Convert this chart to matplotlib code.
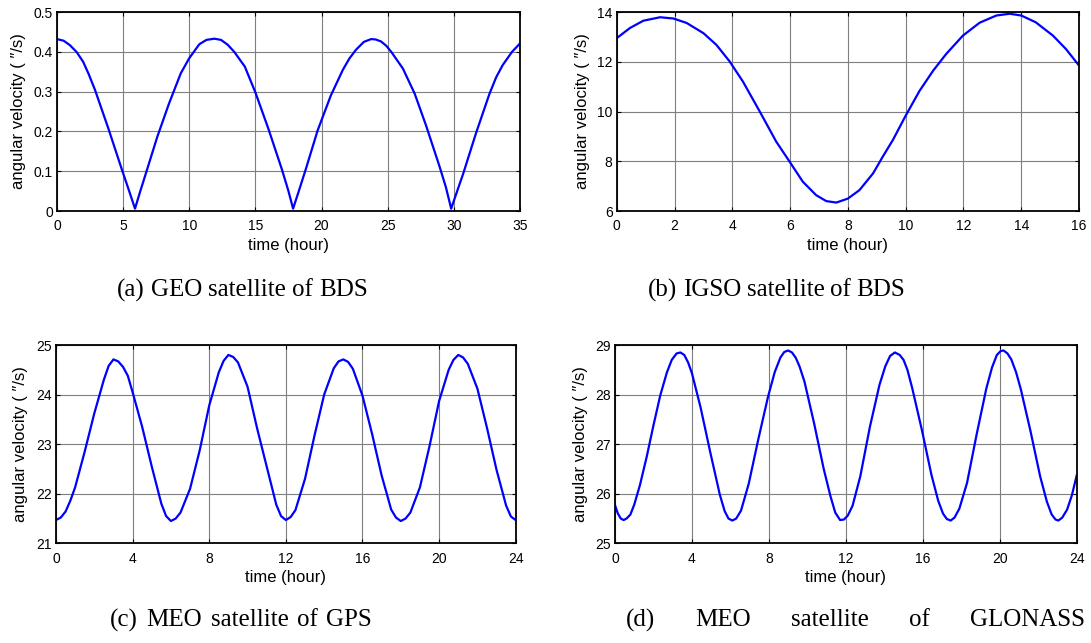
import matplotlib
matplotlib.use("Agg")
import matplotlib.pyplot as plt
from matplotlib.ticker import FuncFormatter

plt.rcParams['font.family'] = ['Liberation Sans', 'DejaVu Sans']

# (a) GEO satellite of BDS
geo_t = [0, 0.5, 0.97, 1.5, 1.98, 2.4, 2.88, 3.89, 4.9, 5.4, 5.9, 6.3, 6.82, 7.58, 8.47, 9.36, 10.0, 10.76,
         11.3, 11.9, 12.4, 12.9, 13.4, 14.2, 15.0, 15.98, 17.0, 17.5, 17.85, 18.3, 18.81, 19.7, 20.7, 21.6,
         22.1, 22.6, 23.2, 23.75, 24.1, 24.5, 24.9, 25.27, 26.15, 27.04, 27.9, 28.9, 29.4, 29.8, 30.2, 30.7,
         31.7, 32.7, 33.2, 33.7, 34.4, 35.0]
geo_v = [0.432, 0.428, 0.417, 0.399, 0.375, 0.344, 0.304, 0.207, 0.105, 0.056, 0.006, 0.05, 0.105, 0.186,
         0.27, 0.346, 0.384, 0.419, 0.430, 0.433, 0.430, 0.418, 0.40, 0.363, 0.298, 0.207, 0.105, 0.05, 0.006,
         0.052, 0.105, 0.202, 0.29, 0.354, 0.383, 0.405, 0.425, 0.432, 0.431, 0.426, 0.415, 0.40, 0.358, 0.295,
         0.215, 0.114, 0.06, 0.006, 0.045, 0.093, 0.198, 0.295, 0.336, 0.367, 0.400, 0.421]

# (b) IGSO satellite of BDS
igso_t = [0, 0.46, 0.92, 1.5, 1.96, 2.42, 3.0, 3.45, 3.91, 4.37, 4.95, 5.52, 5.98, 6.44, 6.9, 7.25, 7.6, 8.0,
          8.4, 8.87, 9.21, 9.56, 9.99, 10.48, 10.95, 11.4, 11.98, 12.56, 13.14, 13.6, 14.0, 14.5, 15.1, 15.55, 16.0]
igso_v = [12.95, 13.36, 13.65, 13.79, 13.74, 13.56, 13.15, 12.68, 12.01, 11.2, 10.0, 8.79, 7.99, 7.18, 6.64,
          6.40, 6.34, 6.50, 6.84, 7.51, 8.19, 8.86, 9.81, 10.83, 11.64, 12.31, 13.05, 13.57, 13.86, 13.93, 13.86,
          13.59, 13.05, 12.51, 11.85]

# (c) MEO satellite of GPS
gps_t = [0, 0.25, 0.5, 0.75, 1.0, 1.5, 2.0, 2.5, 2.75, 3.0, 3.25, 3.5, 3.75, 4.0, 4.5, 5.0, 5.5, 5.75, 6.0,
         6.25, 6.5, 7.0, 7.5, 8.0, 8.5, 8.75, 9.0, 9.25, 9.5, 10.0, 10.5, 11.0, 11.5, 11.75, 12.0,
         12.25, 12.5, 13.0, 13.5, 14.0, 14.5, 14.75, 15.0, 15.25, 15.5, 16.0, 16.5, 17.0, 17.5, 17.75, 18.0,
         18.25, 18.5, 19.0, 19.5, 20.0, 20.5, 20.75, 21.0, 21.25, 21.5, 22.0, 22.5, 23.0, 23.5, 23.75, 24.0]
gps_v = [21.47, 21.52, 21.64, 21.86, 22.13, 22.85, 23.62, 24.3, 24.58, 24.71, 24.67, 24.56, 24.38, 24.05,
         23.35, 22.55, 21.8, 21.55, 21.45, 21.5, 21.62, 22.1, 22.87, 23.78, 24.45, 24.68, 24.8, 24.76, 24.65,
         24.16, 23.32, 22.55, 21.78, 21.55, 21.47,
         21.53, 21.67, 22.3, 23.18, 24.0, 24.53, 24.67, 24.71, 24.66, 24.52, 23.98, 23.21, 22.37, 21.68, 21.52,
         21.45, 21.5, 21.62, 22.13, 22.96, 23.87, 24.5, 24.7, 24.8, 24.75, 24.62, 24.12, 23.33, 22.48, 21.76,
         21.54, 21.47]

# (d) MEO satellite of GLONASS
glo_t = [0, 0.15, 0.3, 0.45, 0.6, 0.8, 1.0, 1.3, 1.65, 2.0, 2.35, 2.7, 2.95, 3.2, 3.4, 3.6, 3.8, 4.0, 4.45,
         4.95, 5.45, 5.7, 5.9, 6.1, 6.3, 6.55, 6.95, 7.45, 7.95, 8.3, 8.6, 8.8, 9.0, 9.2, 9.4, 9.6, 9.85, 10.35,
         10.85, 11.2, 11.45, 11.7, 11.9, 12.1, 12.35, 12.75, 13.25, 13.75, 14.05, 14.3, 14.55, 14.8, 15.0, 15.2,
         15.45, 15.95, 16.45, 16.8, 17.05, 17.25, 17.45, 17.65, 17.9, 18.3, 18.8, 19.3, 19.6, 19.85, 20.05, 20.2,
         20.4, 20.6, 20.85, 21.1, 21.6, 22.1, 22.45, 22.7, 22.9, 23.05, 23.25, 23.5, 23.75, 24.0]
glo_v = [25.77, 25.6, 25.5, 25.47, 25.5, 25.58, 25.78, 26.18, 26.75, 27.38, 27.98, 28.45, 28.7, 28.83, 28.85,
         28.8, 28.65, 28.43, 27.74, 26.84, 25.98, 25.65, 25.5, 25.46, 25.5, 25.66, 26.2, 27.1, 27.95, 28.45,
         28.75, 28.86, 28.89, 28.85, 28.74, 28.56, 28.26, 27.42, 26.5, 25.95, 25.62, 25.47, 25.48, 25.56, 25.76,
         26.35, 27.35, 28.2, 28.57, 28.78, 28.85, 28.8, 28.7, 28.5, 28.13, 27.29, 26.38, 25.86, 25.6, 25.49,
         25.46, 25.52, 25.7, 26.22, 27.2, 28.12, 28.55, 28.8, 28.88, 28.89, 28.83, 28.71, 28.45, 28.1, 27.26,
         26.35, 25.84, 25.58, 25.48, 25.46, 25.52, 25.68, 25.97, 26.37]

panels = [
    (geo_t, geo_v, (0, 35), range(0, 36, 5), (0, 0.5), [0, 0.1, 0.2, 0.3, 0.4, 0.5],
     [0.0522, 0.6718, 0.4244, 0.3095], -0.066),
    (igso_t, igso_v, (0, 16), range(0, 17, 2), (6, 14), range(6, 15, 2),
     [0.5653, 0.6718, 0.4237, 0.3095], -0.058),
    (gps_t, gps_v, (0, 24), range(0, 25, 4), (21, 25), range(21, 26),
     [0.0513, 0.155, 0.4214, 0.3084], -0.061),
    (glo_t, glo_v, (0, 24), range(0, 25, 4), (25, 29), range(25, 30),
     [0.5637, 0.155, 0.4232, 0.3084], -0.059),
]

# caption text, left/right pixel extent, vertical centre
captions = [
    ("(a) GEO satellite of BDS", 117, 368, 290),
    ("(b) IGSO satellite of BDS", 648, 905, 290),
    ("(c) MEO satellite of GPS", 110, 372, 620),
    ("(d) MEO satellite of GLONASS", 626, 1085, 620),
]

W, H = 1091, 643
fig = plt.figure(figsize=(W / 100, H / 100), dpi=100)

for t, v, xl, xt, yl, yt, pos, ylab_x in panels:
    ax = fig.add_axes(pos)
    ax.plot(t, v, color='#0000ff', lw=1.6)
    ax.set_xlim(*xl)
    ax.set_ylim(*yl)
    ax.set_xticks(list(xt))
    ax.set_yticks(list(yt))
    ax.yaxis.set_major_formatter(FuncFormatter(lambda val, p: f"{val:g}"))
    ax.grid(True, color='#7f7f7f', lw=0.8)
    ax.set_axisbelow(True)
    ax.tick_params(direction='in', length=3, top=True, right=True, labelsize=10, width=0.8)
    ax.tick_params(axis='x', pad=6)
    ax.tick_params(axis='y', pad=3)
    for s in ax.spines.values():
        s.set_linewidth(1.3)
    ax.set_xlabel("time (hour)", fontsize=12)
    ax.set_ylabel("angular velocity ( \u2033/s)", fontsize=12)
    ax.xaxis.set_label_coords(0.5, -0.135)
    ax.yaxis.set_label_coords(ylab_x, 0.5)

# justified captions: spread the words over the measured width
renderer = fig.canvas.get_renderer()
for txt, x0, x1, yc in captions:
    words = txt.split(" ")
    objs = [fig.text(0, 1 - yc / H, w, ha='left', va='center', fontsize=18,
                     family=['Liberation Serif', 'DejaVu Serif']) for w in words]
    widths = [o.get_window_extent(renderer).width for o in objs]
    gap = (x1 - x0 - sum(widths)) / (len(words) - 1)
    x = x0
    for o, w in zip(objs, widths):
        o.set_x(x / W)
        x += w + gap

plt.savefig("out.png", dpi=100)
